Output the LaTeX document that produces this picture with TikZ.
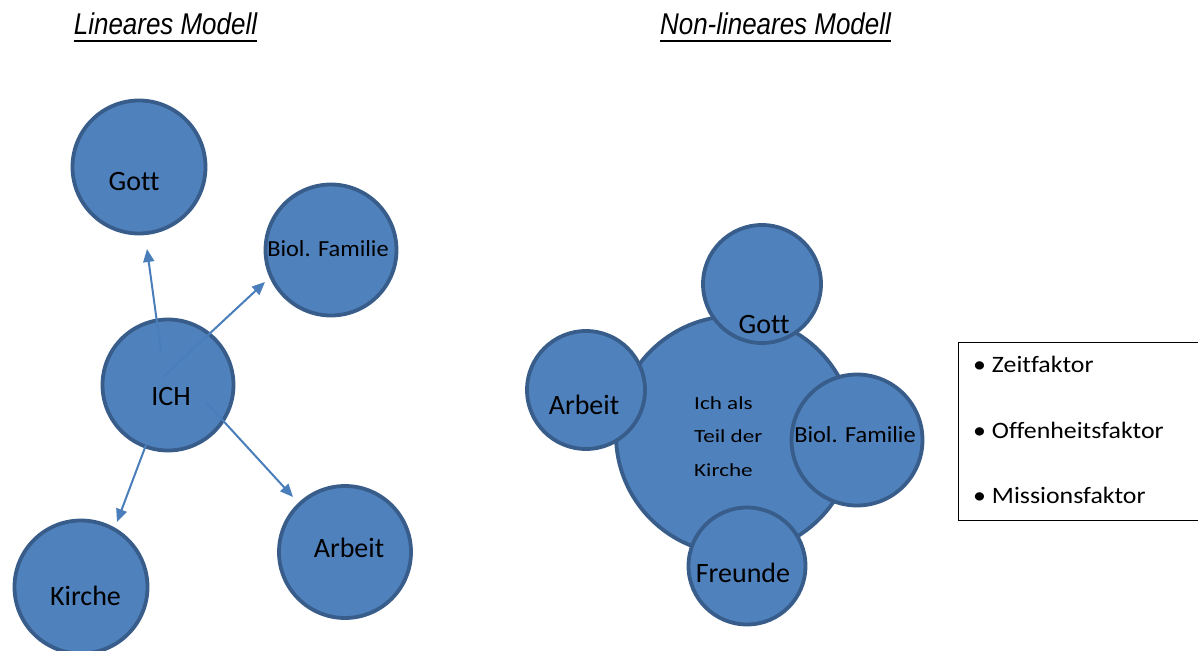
\documentclass[tikz,border=0pt]{standalone}
\usepackage{fontspec}
\setmainfont{Carlito}[Ligatures=NoCommon]
\newfontfamily\titlefont[FakeStretch=0.865,Ligatures=NoCommon]{Liberation Sans}
\newfontfamily\smallfont[FakeStretch=1.25,Ligatures=NoCommon]{Carlito}
\newfontfamily\legfont[FakeStretch=1.1,Ligatures=NoCommon]{Carlito}
\newfontfamily\biolfont[FakeStretch=1.06,Ligatures=NoCommon]{Carlito}
\usetikzlibrary{arrows.meta}
\definecolor{cfill}{HTML}{4F81BD}
\definecolor{cborder}{HTML}{385D8A}
\definecolor{carrow}{HTML}{4A7EBB}
\begin{document}
\begin{tikzpicture}[x=1pt,y=-1pt,
  bubble/.style={circle,fill=cfill,draw=cborder,line width=3.8pt,inner sep=0pt,minimum size=#1},
  lbl/.style={inner sep=0pt,anchor=base,font=\fontsize{28}{33}\selectfont},
  biol/.style={inner sep=0pt,anchor=base,font=\biolfont\fontsize{23}{28}\selectfont},
  ttl/.style={inner sep=0pt,anchor=base,font=\titlefont\itshape\fontsize{30}{34}\selectfont},
  leg/.style={inner sep=0pt,anchor=base west,font=\legfont\fontsize{23.5}{28}\selectfont},
  arr/.style={draw=carrow,line width=2pt,-{Triangle[length=13pt,width=11pt]}}
]
\useasboundingbox (0,0) rectangle (1198,650);

% titles
\node[ttl] (t1) at (165.5,35) {Lineares Modell};
\node[ttl] (t2) at (775.5,35) {Non-lineares Modell};
\draw[line width=1.6pt] ([yshift=-6pt]t1.base west) -- ([yshift=-6pt]t1.base east);
\draw[line width=1.6pt] ([yshift=-6pt]t2.base west) -- ([yshift=-6pt]t2.base east);

% linear model
\node[bubble=133pt] (gott) at (139,167) {};
\node[bubble=131pt] (fam) at (331,250) {};
\node[bubble=131pt] (ich) at (168,385) {};
\node[bubble=132pt] (arb) at (345,552) {};
\node[bubble=133pt] (kir) at (81,587) {};

\coordinate (g0) at (161,352); \coordinate (g1) at (147,249);
\coordinate (b0) at (163,377); \coordinate (b1) at (265,282);
\coordinate (k0) at (146,445); \coordinate (k1) at (117,522);
\coordinate (a0) at (206,402); \coordinate (a1) at (293,497);
\draw[arr] (g0) -- (g1);
\draw[arr] (b0) -- (b1);
\draw[arr] (k0) -- (k1);
\draw[arr] (a0) -- (a1);

\node[lbl] (gottT) at (134,190) {Gott};
\node[biol] (famT) at (328,256) {Biol. Familie};
\node[lbl] (ichT) at (171,405) {ICH};
\node[lbl] (kirT) at (85.5,605) {Kirche};
\node[lbl] (arbT) at (349,557) {Arbeit};

% non-linear model
\node[bubble=238pt] (kirche) at (735,435) {};
\node[bubble=118pt] (gott2) at (762,284) {};
\node[bubble=118pt] (arb2) at (586,390) {};
\node[bubble=131pt] (fam2) at (857,440) {};
\node[bubble=117pt] (fr2) at (747,566) {};

\node[inner sep=0pt,anchor=base west,align=left,font=\smallfont\fontsize{18.5}{33.3}\selectfont] (ichals) at (694,476) {Ich als\\Teil der\\Kirche};
\node[lbl] (gott2T) at (764,333) {Gott};
\node[lbl] (arb2T) at (584,414) {Arbeit};
\node[biol] (fam2T) at (855,442) {Biol. Familie};
\node[lbl] (fr2T) at (743,582) {Freunde};

% legend
\node[draw=black,line width=1.1pt,inner sep=0pt,anchor=north west,minimum width=250pt,minimum height=178pt] (legend) at (957.5,342) {};
\node[leg] (l1) at (973,372) {\textbullet\ Zeitfaktor};
\node[leg] (l2) at (973,438) {\textbullet\ Offenheitsfaktor};
\node[leg] (l3) at (973,503) {\textbullet\ Missionsfaktor};
\end{tikzpicture}
\end{document}
